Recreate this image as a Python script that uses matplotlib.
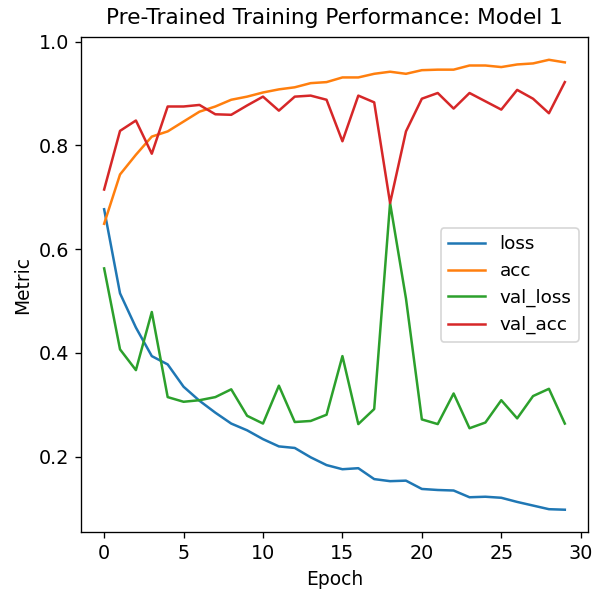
import numpy as np
from matplotlib import pyplot as plt

# training history, one value per epoch
epochs = np.arange(30)

loss = [0.677, 0.515, 0.449, 0.394, 0.378, 0.335, 0.308, 0.285, 0.264, 0.251,
        0.234, 0.220, 0.217, 0.199, 0.184, 0.176, 0.178, 0.157, 0.153, 0.154,
        0.138, 0.136, 0.135, 0.122, 0.123, 0.121, 0.113, 0.106, 0.099, 0.098]

acc = [0.649, 0.744, 0.782, 0.817, 0.827, 0.846, 0.865, 0.875, 0.888, 0.894,
       0.902, 0.908, 0.912, 0.920, 0.922, 0.931, 0.931, 0.938, 0.942, 0.938,
       0.945, 0.946, 0.946, 0.954, 0.954, 0.951, 0.956, 0.958, 0.965, 0.960]

val_loss = [0.563, 0.407, 0.367, 0.479, 0.315, 0.306, 0.309, 0.315, 0.330, 0.279,
            0.264, 0.337, 0.267, 0.269, 0.281, 0.394, 0.263, 0.292, 0.689, 0.505,
            0.272, 0.263, 0.322, 0.255, 0.266, 0.309, 0.274, 0.317, 0.331, 0.264]

val_acc = [0.715, 0.828, 0.848, 0.784, 0.875, 0.875, 0.878, 0.860, 0.859, 0.877,
           0.894, 0.867, 0.894, 0.896, 0.888, 0.808, 0.896, 0.883, 0.689, 0.827,
           0.890, 0.901, 0.871, 0.901, 0.885, 0.869, 0.907, 0.890, 0.862, 0.922]

fig = plt.figure(figsize=(592 / 120, 592 / 120), dpi=120)
ax = fig.add_axes([0.137, 0.101, 0.856, 0.836])

ax.plot(epochs, loss, label="loss")
ax.plot(epochs, acc, label="acc")
ax.plot(epochs, val_loss, label="val_loss")
ax.plot(epochs, val_acc, label="val_acc")

ax.set_xticks([0, 5, 10, 15, 20, 25, 30])
ax.set_yticks([0.2, 0.4, 0.6, 0.8, 1.0])
ax.tick_params(labelsize=11.5)
ax.set_xlabel("Epoch", fontsize=11.2)
ax.set_ylabel("Metric", fontsize=11.2)
ax.set_title("Pre-Trained Training Performance: Model 1", fontsize=13, pad=8)
ax.legend(loc="center right", fontsize=11, labelspacing=0.48)

fig.savefig("out.png", dpi=120)
